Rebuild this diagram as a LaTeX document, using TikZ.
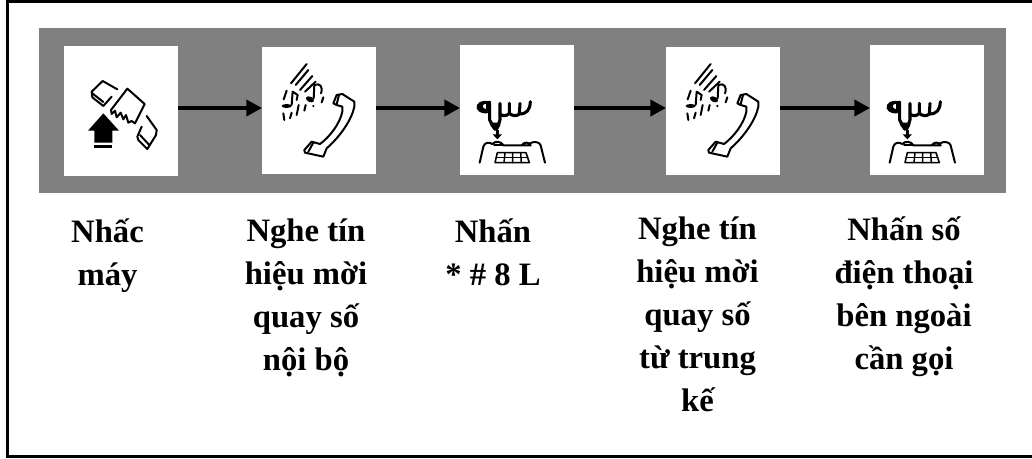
\documentclass[tikz,border=0pt]{standalone}
\usepackage{fontspec}
\setmainfont{Liberation Serif}
\usetikzlibrary{arrows.meta,positioning}
\definecolor{bandgray}{HTML}{808080}
\tikzset{
  panel/.style={fill=white,draw=none,inner sep=0pt,outer sep=0pt,minimum width=85.5pt},
  band/.style={fill=bandgray,draw=none,inner sep=0pt,outer sep=0pt},
  flow/.style={line width=2.75pt,-{Triangle[length=11.7pt,width=12pt]}},
  caption/.style={anchor=north,align=center,inner sep=0pt,outer sep=0pt,font=\fontsize{24.5}{32.3}\selectfont\bfseries},
  ico/.style={x=0.25pt,y=-0.25pt,line cap=round,line join=round},
  fine/.style={line width=1.5pt},
  heavy/.style={line width=2.3pt}
}
\newcommand{\iconlift}{%
  % upper handset piece
  \draw[fine] (172,148) -- (128,123) -- (95,155) -- (97,172) -- (130,198) -- (155,170);
  \draw[fine] (97,160) -- (130,186);
  % lower handset piece
  \draw[fine] (260,228) -- (290,270) -- (288,285) -- (262,327) -- (235,300) -- (232,290) -- (245,260);
  \draw[fine] (240,285) -- (268,315);
  % hand
  \draw[fine] (202,146) -- (254,192) -- (225,250) -- (215,243) -- (205,248) -- (198,225) -- (190,238) -- (182,218) -- (170,232) -- (165,212) -- (155,222) -- (153,210) -- cycle;
  % arrow with bar
  \fill (130,220) -- (177,272) -- (157,272) -- (157,308) -- (103,308) -- (103,272) -- (84,272) -- cycle;
  \fill (103,316) rectangle (157,325);
}
\newcommand{\iconlisten}{%
  % sound lines
  \draw[fine] (155,72) -- (108,130);
  \draw[fine] (160,90) -- (122,135);
  \draw[fine] (172,108) -- (135,150);
  \draw[fine] (182,125) -- (150,155);
  % notes
  \fill (95,198) ellipse (15 and 6);
  \draw[fine] (110,195) -- (113,155) -- (128,165) -- (125,180);
  \fill[rotate around={-25:(165,178)}] (165,178) ellipse (13 and 8);
  \draw[fine] (176,175) -- (178,135) .. controls (195,128) and (205,140) .. (198,160);
  \draw[fine] (95,152) -- (86,178);
  \draw[fine] (205,172) -- (200,187);
  \draw[fine] (152,195) -- (148,212);
  \draw[fine] (131,195) -- (125,225);
  \draw[fine] (110,218) -- (105,235);
  \draw[fine] (85,220) -- (88,240);
  \fill (175,198) circle (3.5);
  % handset
  \draw[fine] (245,165) -- (262,162) -- (298,185) -- (298,200) .. controls (290,240) and (255,290) .. (215,325) -- (205,350) -- (150,338) -- (148,330) -- (170,305) -- (195,312) .. controls (225,290) and (255,250) .. (262,215) -- (262,200) -- (245,195) -- (235,190) -- cycle;
  \draw[fine] (252,165) -- (245,193);
  \draw[fine] (175,308) -- (160,335);
}
\newcommand{\icondial}{%
  % first finger, with its hollow tip
  \fill[even odd rule] (118,184) .. controls (92,178) and (78,190) .. (80,205) .. controls (84,218) and (104,224) .. (118,218) -- cycle (108,191) .. controls (96,192) and (94,204) .. (108,208) -- cycle;
  % stem funnel
  \draw[heavy] (119,186) -- (119,240) -- (134,266);
  \draw[heavy] (150,190) -- (150,240) -- (140,266);
  \fill (118,248) -- (152,248) -- (150,258) -- (141,272) -- (133,272) -- (122,258) -- cycle;
  % other fingers
  \draw[heavy] (150,222) .. controls (158,229) and (170,229) .. (178,220) -- (178,190);
  \draw[heavy] (178,220) .. controls (188,229) and (200,229) .. (208,222) -- (210,190);
  \draw[heavy] (208,222) .. controls (230,222) and (240,210) .. (241,185);
  % arrow down to the keys
  \fill (137,270) rectangle (147,285);
  \fill (128,283) -- (156,283) -- (142,298) -- cycle;
  % telephone
  \draw[fine] (89,368) -- (100,320) .. controls (104,306) and (118,306) .. (127,312);
  \draw[fine] (127,312) .. controls (135,302) and (155,304) .. (160,316) -- (215,316);
  \draw[fine] (132,316) -- (160,316);
  \draw[fine] (215,316) .. controls (222,306) and (235,304) .. (242,316) -- (218,316);
  \draw[fine] (240,310) .. controls (250,304) and (268,304) .. (272,316) -- (285,368);
  % keypad
  \draw[line width=1.15pt] (135,368) -- (142,338) -- (228,338) -- (238,368) -- cycle;
  \draw[line width=1.15pt] (139,352) -- (233,352);
  \draw[line width=1.15pt] (165,338) -- (162,368) (188,338) -- (188,368) (212,338) -- (214,368);
}
\begin{document}
\begin{tikzpicture}[x=0.75pt,y=-0.75pt]
  \useasboundingbox (0,0) rectangle (1032,458);
  \fill[white] (0,0) rectangle (1032,458);
  % outer frame
  \draw[line width=2.6pt] (1032,1.6) -- (7.5,1.6) -- (7.5,456.5) -- (1032,456.5);
  \node[band,minimum width=725.25pt,minimum height=123.75pt] (strip) at (522.7,110.5) {};
  \node[panel,minimum height=97.5pt] (p1) at (121,111) {};
  \node[panel,minimum height=95.25pt] (p2) at (319,110.5) {};
  \node[panel,minimum height=97.5pt] (p3) at (517,110) {};
  \node[panel,minimum height=96pt] (p4) at (723,111) {};
  \node[panel,minimum height=97.5pt] (p5) at (927,110) {};
  \coordinate (rail) at (0,108);
  \draw[flow] (p1.east |- rail) -- (p2.west |- rail);
  \draw[flow] (p2.east |- rail) -- (p3.west |- rail);
  \draw[flow] (p3.east |- rail) -- (p4.west |- rail);
  \draw[flow] (p4.east |- rail) -- (p5.west |- rail);
  % icons
  \begin{scope}[shift={(60,40)},ico]\iconlift\end{scope}
  \begin{scope}[shift={(255,40)},ico]\iconlisten\end{scope}
  \begin{scope}[shift={(450,40)},ico]\icondial\end{scope}
  \begin{scope}[shift={(659,40)},ico]\iconlisten\end{scope}
  \begin{scope}[shift={(860,40)},ico]\icondial\end{scope}
  % captions
  \node[caption] (c1) at (107.5,219) {Nhấc\\máy};
  \node[caption] (c2) at (306,219) {Nghe tín\\hiệu mời\\quay số\\nội bộ};
  \node[caption] (c3) at (493,219) {Nhấn\\* \# 8 L};
  \node[caption] (c4) at (697.5,217) {Nghe tín\\hiệu mời\\quay số\\từ trung\\kế};
  \node[caption] (c5) at (904,217) {Nhấn số\\điện thoại\\bên ngoài\\cần gọi};
\end{tikzpicture}
\end{document}
